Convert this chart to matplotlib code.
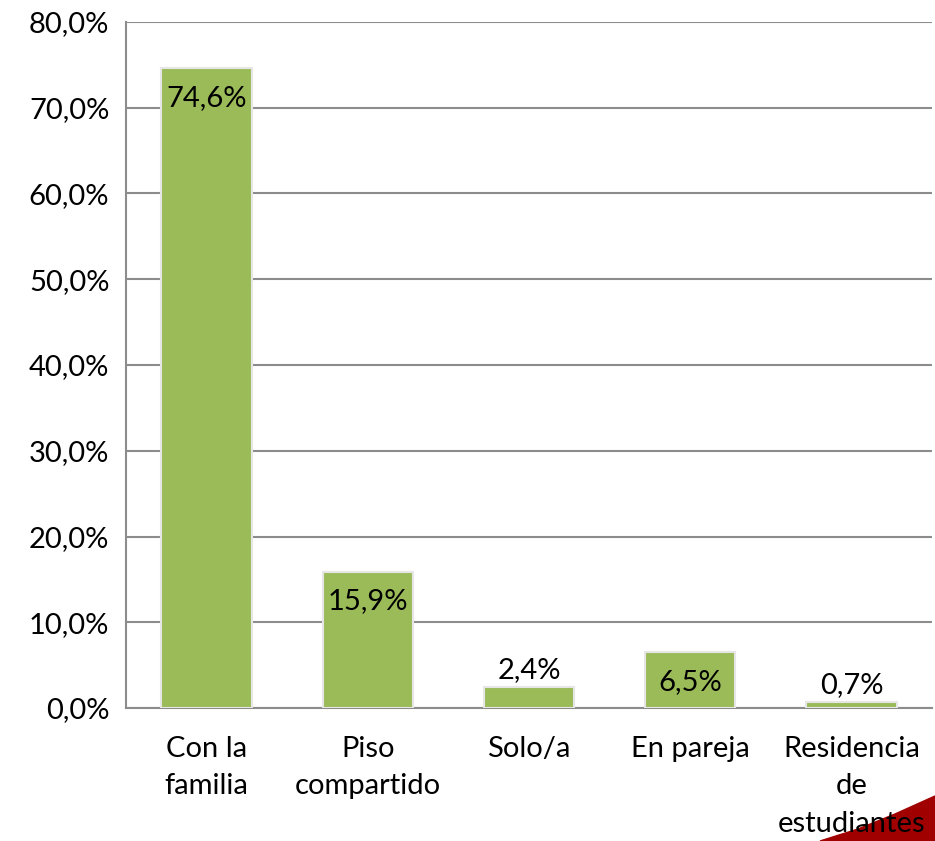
import matplotlib.pyplot as plt
from matplotlib.patches import Polygon
from matplotlib.ticker import FuncFormatter

plt.rcParams['font.family'] = ['Lato', 'DejaVu Sans']

categorias = ['Con la\nfamilia', 'Piso\ncompartido', 'Solo/a', 'En pareja', 'Residencia\nde\nestudiantes']
valores = [74.6, 15.9, 2.4, 6.5, 0.7]
etiquetas = ['74,6%', '15,9%', '2,4%', '6,5%', '0,7%']

fig = plt.figure(figsize=(9.35, 8.41), dpi=100)
ax = fig.add_axes([126 / 935, 1 - 708 / 841, (932 - 126) / 935, (708 - 22) / 841])
ax.patch.set_alpha(0)

x = range(len(categorias))
ax.bar(x, valores, width=0.56, color='#9BBB59', edgecolor='#E6E6E6', linewidth=1.5, zorder=3)

for xi, v, t in zip(x, valores, etiquetas):
    if v >= 5:
        ax.annotate(t, (xi, v), xytext=(0, -12), textcoords='offset points',
                    ha='center', va='top', fontsize=21, zorder=4)
    else:
        ax.annotate(t, (xi, v), xytext=(0, 3), textcoords='offset points',
                    ha='center', va='bottom', fontsize=21, zorder=4)

ax.set_xlim(-0.5, len(categorias) - 0.5)
ax.set_ylim(0, 80)
ax.set_yticks(range(0, 81, 10))
ax.yaxis.set_major_formatter(FuncFormatter(lambda v, p: ('%.1f%%' % v).replace('.', ',')))
ax.set_xticks(list(x))
ax.set_xticklabels(categorias, fontsize=21, linespacing=1.55)
ax.tick_params(axis='y', labelsize=21, length=0, pad=12)
ax.tick_params(axis='x', length=0, pad=20)
ax.grid(axis='y', color='#8C8C8C', linewidth=1.5, zorder=0)
for s in ['top', 'right']:
    ax.spines[s].set_visible(False)
for s in ['left', 'bottom']:
    ax.spines[s].set_color('#8C8C8C')
    ax.spines[s].set_linewidth(1.5)

# adorno rojo de la esquina
pts = [(820, 841), (858, 829), (895, 814), (935, 796), (935, 841)]
fig.patches.append(Polygon([(px / 935, 1 - py / 841) for px, py in pts],
                           closed=True, transform=fig.transFigure, color='#A00000', zorder=-1))

fig.savefig('out.png', dpi=100)
